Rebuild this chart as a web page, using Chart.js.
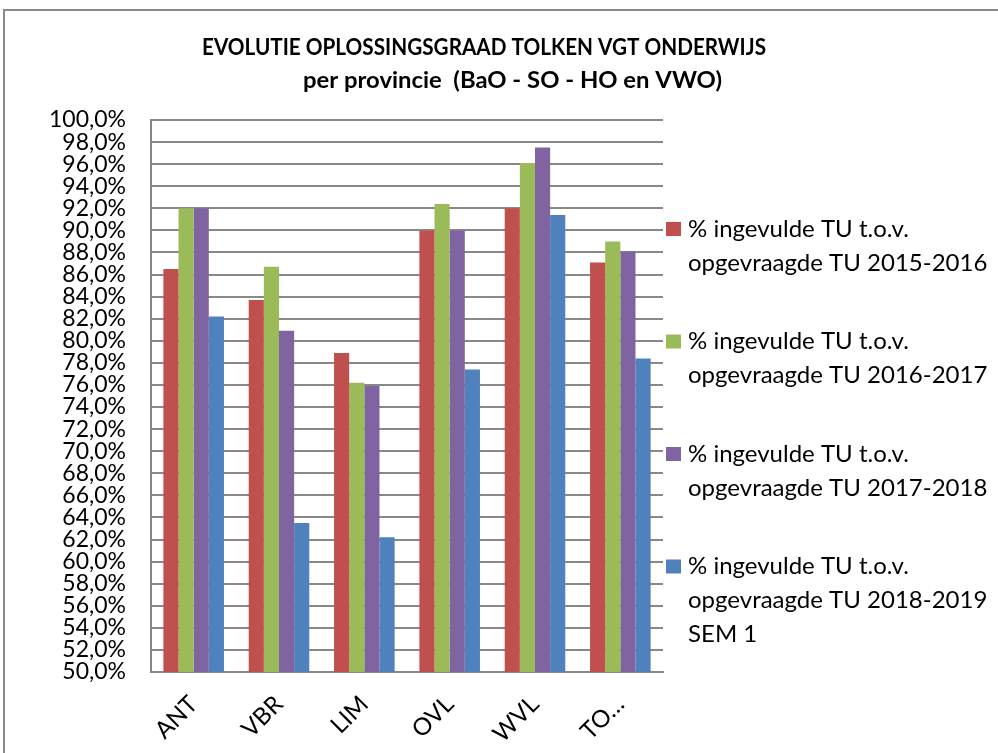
<!DOCTYPE html>
<html>
<head>
<meta charset="utf-8">
<script src="https://cdn.jsdelivr.net/npm/chart.js@4.4.1/dist/chart.umd.min.js"></script>
<style>
  html, body { margin: 0; padding: 0; background: #fff; }
  #wrap { width: 998px; height: 753px; }
</style>
</head>
<body>
<div id="wrap"><canvas id="c" width="998" height="753"></canvas></div>
<script>
// provinces (last one is cut off in the original: "TO…")
const categories = ['ANT', 'VBR', 'LIM', 'OVL', 'WVL', 'TO…'];

// % ingevulde TU t.o.v. opgevraagde TU, per school year
const tu2015 = [86.5, 83.7, 78.9, 90.0, 92.0, 87.1];
const tu2016 = [92.0, 86.7, 76.2, 92.4, 96.1, 89.0];
const tu2017 = [92.0, 80.9, 75.9, 90.0, 97.5, 88.1];
const tu2018 = [82.2, 63.5, 62.2, 77.4, 91.4, 78.4];

const seriesLabels = [
  ['% ingevulde TU t.o.v.', 'opgevraagde TU 2015-2016'],
  ['% ingevulde TU t.o.v.', 'opgevraagde TU 2016-2017'],
  ['% ingevulde TU t.o.v.', 'opgevraagde TU 2017-2018'],
  ['% ingevulde TU t.o.v.', 'opgevraagde TU 2018-2019', 'SEM 1']
];
const seriesColors = ['#c0504d', '#9bbb59', '#8064a2', '#4f81bd'];

const titleLines = ['EVOLUTIE OPLOSSINGSGRAAD TOLKEN VGT ONDERWIJS', 'per provincie  (BaO - SO - HO en VWO)'];

const FONT = 'Lato, "Open Sans", sans-serif';
const GRID = '#888888';

// text scaled to a given width (the original uses a narrower font)
function fitText(ctx, txt, x0, x1, baseline) {
  const k = (x1 - x0) / ctx.measureText(txt).width;
  ctx.save();
  ctx.translate(x0, baseline);
  ctx.scale(k, 1);
  ctx.fillText(txt, 0, 0);
  ctx.restore();
}

// frame + title + legend drawn by hand (legend has multi-line entries)
const decorPlugin = {
  id: 'decor',
  beforeDraw: (chart) => {
    const { ctx } = chart;
    ctx.save();
    ctx.fillStyle = '#ffffff';
    ctx.fillRect(0, 0, chart.width, chart.height);
    ctx.strokeStyle = '#8a8a8a';
    ctx.lineWidth = 2;
    ctx.strokeRect(4, 10, 1000, 800);
    ctx.restore();
  },
  afterDraw: (chart) => {
    const { ctx } = chart;
    ctx.save();
    ctx.fillStyle = '#000';
    ctx.textAlign = 'left';
    ctx.textBaseline = 'alphabetic';
    ctx.font = 'bold 23px ' + FONT;
    fitText(ctx, titleLines[0], 202, 766, 55);
    fitText(ctx, titleLines[1], 303, 722, 88);

    ctx.textBaseline = 'middle';
    ctx.font = '24px ' + FONT;
    chart.data.datasets.forEach((ds, i) => {
      const y0 = 229 + i * 112.5;
      ctx.fillStyle = ds.backgroundColor;
      ctx.fillRect(666, y0 - 7, 15, 14);
      ctx.fillStyle = '#000';
      seriesLabels[i].forEach((line, j) => ctx.fillText(line, 688, y0 + j * 34));
    });
    ctx.restore();
  }
};

new Chart(document.getElementById('c'), {
  type: 'bar',
  data: {
    labels: categories,
    datasets: [tu2015, tu2016, tu2017, tu2018].map((d, i) => ({
      label: seriesLabels[i].join(' '),
      data: d,
      backgroundColor: seriesColors[i],
      borderWidth: 0
    }))
  },
  options: {
    responsive: false,
    animation: false,
    layout: { padding: { left: 0, top: 120, right: 335, bottom: 0 } },
    datasets: { bar: { categoryPercentage: 0.71, barPercentage: 1.0 } },
    plugins: {
      legend: { display: false },
      title: { display: false },
      tooltip: { enabled: false }
    },
    scales: {
      x: {
        grid: { display: false, drawTicks: false },
        border: { color: GRID, width: 2 },
        ticks: {
          color: '#000',
          font: { family: FONT, size: 24 },
          maxRotation: 45, minRotation: 45,
          padding: 18
        },
        afterFit: (s) => { s.height = 81; }
      },
      y: {
        min: 50, max: 100,
        grid: { color: GRID, lineWidth: 2, drawTicks: false },
        border: { color: GRID, width: 2 },
        ticks: {
          stepSize: 2,
          autoSkip: false,
          color: '#000',
          font: { family: FONT, size: 23 },
          padding: 25,
          callback: (v) => v.toFixed(1).replace('.', ',') + '%'
        },
        afterFit: (s) => { s.width = 151; }
      }
    }
  },
  plugins: [decorPlugin]
});
</script>
</body>
</html>
